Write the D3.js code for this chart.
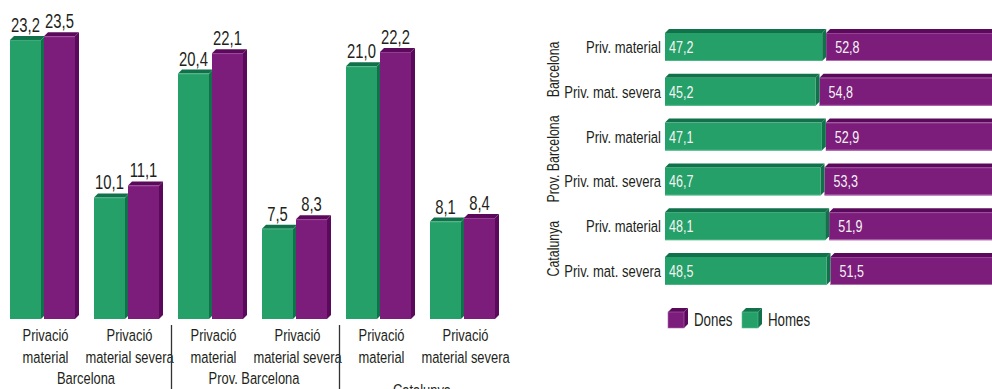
<!DOCTYPE html>
<html><head><meta charset="utf-8">
<script src="https://cdn.jsdelivr.net/npm/d3@7"></script>
<style>
html,body{margin:0;padding:0;background:#fff;}
svg{display:block;font-family:"Liberation Sans",Arial,sans-serif;}
</style></head>
<body>
<svg id="c" width="992" height="389"></svg>
<script>
// ---- Data ----
const groups = ["Barcelona", "Prov. Barcelona", "Catalunya"];
const categories = ["Privació material", "Privació material severa"];
const series = ["Homes", "Dones"];
const homesValues = [23.2, 10.1, 20.4, 7.5, 21.0, 8.1];
const donesValues = [23.5, 11.1, 22.1, 8.3, 22.2, 8.4];

const rowLabels = ["Priv. material", "Priv. mat. severa"];
const homesPct = [47.2, 45.2, 47.1, 46.7, 48.1, 48.5];
const donesPct = [52.8, 54.8, 52.9, 53.3, 51.9, 51.5];
const legendItems = ["Dones", "Homes"];

// ---- Styles ----
const col = {
  Homes: {front: "#24a068", dark: "#11714a", light: "#5cc08f"},
  Dones: {front: "#7c1c7b", dark: "#5b0a5b", light: "#b06ab0"}
};
const textCol = "#231f20";
const svg = d3.select("#c");
const fmt = v => d3.format(".1f")(v).replace(".", ",");

// condensed text helper
function txt(g, x, y, s, o = {}) {
  const sx = o.sx || 0.77;
  const rot = o.rotate ? ` rotate(${o.rotate})` : "";
  return g.append("text")
    .attr("transform", `translate(${x},${y})${rot} scale(${sx},1)`)
    .attr("text-anchor", o.anchor || "start")
    .attr("font-size", o.size || 16)
    .attr("fill", o.fill || textCol)
    .text(s);
}

// ===== Left chart: 3D grouped columns =====
const keys = d3.range(groups.length * categories.length);
const x0 = d3.scaleBand().domain(keys).range([2, 2 + 84 * keys.length]).padding(0);
const x1 = d3.scaleBand().domain(series).range([8, 76]).padding(0);
const y = d3.scaleLinear().domain([0, 25]).range([319, 319 - 25 * 12.03]);
const d = 4;
const bw = x1.bandwidth() - 3;

const left = svg.append("g");
keys.forEach(k => {
  const vals = {Homes: homesValues[k], Dones: donesValues[k]};
  series.forEach(s => {
    const x = x0(k) + x1(s), yt = y(vals[s]), yb = y(0);
    const g = left.append("g");
    g.append("path").attr("fill", col[s].dark)
      .attr("d", `M${x+bw},${yt} L${x+bw+d},${yt-d} L${x+bw+d},${yb-d} L${x+bw},${yb} Z`);
    g.append("path").attr("fill", col[s].dark)
      .attr("d", `M${x},${yt} L${x+d},${yt-d} L${x+bw+d},${yt-d} L${x+bw},${yt} Z`);
    g.append("rect").attr("x", x).attr("y", yt).attr("width", bw).attr("height", yb - yt)
      .attr("fill", col[s].front);
    g.append("line").attr("x1", x).attr("x2", x + bw).attr("y1", yt + 0.5).attr("y2", yt + 0.5)
      .attr("stroke", col[s].light).attr("stroke-width", 0.8).attr("opacity", 0.6);
    txt(g, x + bw / 2, yt - 8, fmt(vals[s]), {anchor: "middle", size: 19.5, sx: 0.76});
  });
  const cx = x0(k) + 8 + (bw * 2 + d + 3) / 2 + 1;
  const words = k % 2 === 0 ? ["Privació", "material"] : ["Privació", "material severa"];
  words.forEach((w, i) => txt(left, cx, 341 + i * 22, w, {anchor: "middle", size: 17, sx: 0.76}));
});
groups.forEach((gname, gi) => {
  const k0 = gi * 2;
  const cx = (x0(k0) + x0(k0 + 1) + x0.bandwidth()) / 2;
  txt(left, cx, gi === 2 ? 396 : 384, gname, {anchor: "middle", size: 17, sx: 0.76});
  if (gi > 0) {
    const sx = x0(k0) - 0.5 + 2;
    left.append("line").attr("x1", sx).attr("x2", sx).attr("y1", 325).attr("y2", 389)
      .attr("stroke", "#333").attr("stroke-width", 1.3);
  }
});

// ===== Right chart: 3D 100% stacked horizontal bars =====
const rows = d3.range(homesPct.length);
const xr = d3.scaleLinear().domain([0, 100]).range([665, 998]);
const yr = d3.scaleBand().domain(rows).range([33, 285]).paddingInner(0.375).paddingOuter(0);
const right = svg.append("g");
rows.forEach(r => {
  const yt = yr(r), h = yr.bandwidth();
  const xs = xr(0), xm = xr(homesPct[r]), xe = xr(homesPct[r] + donesPct[r]) + 4;
  right.append("path").attr("fill", col.Dones.dark)
    .attr("d", `M${xm+d},${yt} L${xm+d+d},${yt-d} L${xe+d},${yt-d} L${xe},${yt} Z`);
  right.append("rect").attr("x", xm + d).attr("y", yt).attr("width", xe - xm - d).attr("height", h)
    .attr("fill", col.Dones.front);
  right.append("line").attr("x1", xm + d).attr("x2", xe).attr("y1", yt + h - 0.5).attr("y2", yt + h - 0.5)
    .attr("stroke", col.Dones.light).attr("stroke-width", 1);
  right.append("line").attr("x1", xm + d).attr("x2", xe).attr("y1", yt + 0.5).attr("y2", yt + 0.5)
    .attr("stroke", col.Dones.light).attr("stroke-width", 0.8).attr("opacity", 0.6);
  right.append("path").attr("fill", col.Homes.dark)
    .attr("d", `M${xs},${yt} L${xs+d},${yt-d} L${xm+d},${yt-d} L${xm},${yt} Z`);
  right.append("path").attr("fill", col.Homes.dark)
    .attr("d", `M${xm},${yt} L${xm+d},${yt-d} L${xm+d},${yt+h-d} L${xm},${yt+h} Z`);
  right.append("rect").attr("x", xs).attr("y", yt).attr("width", xm - xs).attr("height", h)
    .attr("fill", col.Homes.front);
  right.append("line").attr("x1", xs).attr("x2", xm).attr("y1", yt + h - 0.5).attr("y2", yt + h - 0.5)
    .attr("stroke", col.Homes.light).attr("stroke-width", 1).attr("opacity", 0.7);
  txt(right, xs + 4, yt + h / 2 + 6, fmt(homesPct[r]), {size: 16.5, fill: "#f4f4f4", sx: 0.76});
  txt(right, xm + d + 9, yt + h / 2 + 6, fmt(donesPct[r]), {size: 16.5, fill: "#f4f4f4", sx: 0.76});
  txt(right, 661, yt + h / 2 + 6, rowLabels[r % 2], {anchor: "end", size: 16.5, sx: 0.79});
});
groups.forEach((gname, gi) => {
  const cy = (yr(gi * 2) + yr(gi * 2 + 1) + yr.bandwidth()) / 2;
  txt(right, 559, cy, gname, {anchor: "middle", size: 16.5, rotate: -90, sx: 0.75});
});

// Legend
const lg = svg.append("g");
const legX = [668, 742];
legendItems.forEach((s, i) => {
  const lx = legX[i], ly = 312, sz = 16, dd = 4;
  lg.append("path").attr("fill", col[s].dark)
    .attr("d", `M${lx},${ly} L${lx+dd},${ly-dd} L${lx+sz+dd},${ly-dd} L${lx+sz},${ly} Z`);
  lg.append("path").attr("fill", col[s].dark)
    .attr("d", `M${lx+sz},${ly} L${lx+sz+dd},${ly-dd} L${lx+sz+dd},${ly+sz-dd} L${lx+sz},${ly+sz} Z`);
  lg.append("rect").attr("x", lx).attr("y", ly).attr("width", sz).attr("height", sz)
    .attr("fill", col[s].front).attr("stroke", col[s].light).attr("stroke-width", 0.6);
  txt(lg, lx + sz + dd + 6, ly + 14, s, {size: 18.5, sx: 0.72});
});
</script>
</body></html>
